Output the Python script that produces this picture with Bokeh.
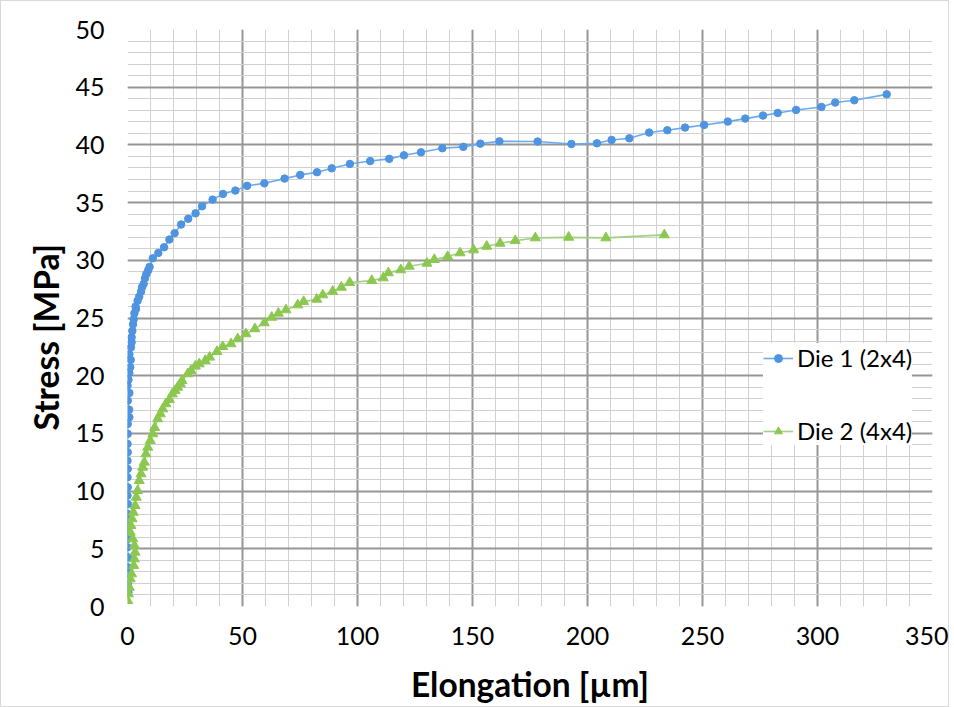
from bokeh.plotting import figure
from bokeh.models import FixedTicker, Legend, LegendItem, Range1d, Title
from bokeh.embed import file_html
from bokeh.resources import INLINE

# ---- data ----
die1_x = [0.4, 0.2, 0.3, 0.1, 0.2, 0.0, 0.1, 0.0, 0.1, 0.0, 0.1, 0.0, 0.1, 0.0, 0.1, 0.0, 0.1, 0.0, 0.1, 0.1,
          0.8, 0.7, 0.1, 0.8, 0.0, 0.4, 0.8, 1.2, 1.4, 0.8, 1.5, 1.8, 1.8, 2.1, 2.4, 2.7, 3.0, 3.7, 3.5, 4.4,
          5.1, 5.9, 6.3, 7.0, 7.6, 8.2, 9.0, 9.6, 11.0, 13.4, 15.9, 18.2, 20.5, 23.3, 26.4, 29.6, 32.4, 37.0,
          41.5, 46.9, 52.0, 59.5, 68.3, 75.1, 82.4, 88.8, 96.7, 105.5, 113.8, 120.2, 127.6, 136.9, 146.0,
          153.4, 161.7, 178.3, 193.0, 204.1, 210.5, 218.2, 226.8, 234.7, 242.4, 250.7, 261.0, 268.6, 276.3,
          282.7, 290.7, 301.7, 307.7, 316.0, 330.1]
die1_y = [1.23, 1.96, 2.82, 3.40, 4.26, 5.13, 5.86, 6.58, 7.30, 8.02, 8.89, 9.61, 10.33, 11.20, 11.92, 12.64,
          13.37, 14.09, 14.96, 15.82, 16.40, 17.06, 17.84, 18.51, 19.14, 19.65, 20.24, 20.73, 21.37, 21.85,
          22.46, 22.90, 23.33, 23.88, 24.45, 24.89, 25.41, 25.79, 26.00, 26.50, 26.85, 27.29, 27.66, 27.95,
          28.44, 28.82, 29.13, 29.43, 30.18, 30.64, 31.13, 31.80, 32.35, 33.10, 33.60, 34.07, 34.68, 35.26,
          35.75, 36.04, 36.45, 36.67, 37.08, 37.40, 37.63, 37.97, 38.35, 38.60, 38.79, 39.10, 39.36, 39.71,
          39.83, 40.11, 40.31, 40.29, 40.08, 40.14, 40.43, 40.57, 41.07, 41.27, 41.50, 41.73, 42.02, 42.28,
          42.54, 42.77, 43.03, 43.29, 43.67, 43.87, 44.38]

die2_x = [0.1, 0.4, 0.8, 1.2, 1.8, 2.7, 3.0, 3.3, 3.0, 2.3, 1.2, 1.5, 2.0, 2.5, 3.3, 3.8, 4.4, 5.1, 5.9, 6.6,
          7.3, 8.0, 8.8, 9.9, 11.0, 11.8, 13.1, 14.3, 15.3, 16.7, 18.2, 19.5, 20.7, 21.8, 23.0, 23.7, 26.2,
          27.6, 29.5, 31.2, 33.8, 35.7, 38.9, 41.4, 45.0, 47.9, 51.5, 55.4, 59.5, 62.7, 65.6, 68.9, 74.0,
          76.6, 82.3, 84.9, 89.2, 93.0, 96.6, 106.2, 111.2, 113.4, 118.8, 122.5, 130.2, 133.4, 139.2, 144.6,
          150.5, 156.2, 162.0, 168.6, 177.3, 191.8, 208.0, 233.4]
die2_y = [0.51, 1.09, 1.66, 2.39, 2.82, 3.54, 4.12, 4.70, 5.28, 5.86, 6.43, 7.01, 7.59, 8.16, 8.74, 9.46,
          10.04, 10.91, 11.49, 12.06, 12.50, 13.22, 13.80, 14.38, 14.96, 15.50, 16.26, 16.69, 17.12, 17.56,
          17.93, 18.42, 18.71, 19.00, 19.29, 19.58, 20.16, 20.44, 20.82, 21.02, 21.31, 21.60, 22.09, 22.52,
          22.76, 23.19, 23.62, 24.06, 24.58, 25.06, 25.41, 25.70, 26.13, 26.42, 26.62, 27.00, 27.31, 27.66,
          28.07, 28.24, 28.47, 28.91, 29.17, 29.48, 29.74, 30.06, 30.32, 30.64, 30.90, 31.21, 31.47, 31.70,
          31.94, 31.99, 31.94, 32.20]

series_names = ["Die 1 (2x4)", "Die 2 (4x4)"]
x_title = "Elongation [µm]"
y_title = "Stress [MPa]"
x_major = list(range(0, 351, 50))
x_minor = list(range(0, 351, 10))
y_major = list(range(0, 51, 5))
y_minor = list(range(0, 51, 1))

FONT = "Lato"
BLUE_LINE = "#6aaaf0"
BLUE_MARK = "#4f94e0"
GREEN_LINE = "#a3cf84"
GREEN_MARK = "#8cc850"

p = figure(frame_width=805, frame_height=577,
           min_border_left=126, min_border_right=16, min_border_top=28, min_border_bottom=90,
           x_range=Range1d(0, 350), y_range=Range1d(0, 50),
           output_backend="svg", toolbar_location=None,
           background_fill_color="white", border_fill_color="white",
           styles={"border": "1px solid #d9d9d9"})
p.outline_line_color = None

# grids
p.xgrid.ticker = FixedTicker(ticks=[t for t in x_major if t != 0], minor_ticks=x_minor)
p.ygrid.ticker = FixedTicker(ticks=[t for t in y_major if t != 0], minor_ticks=y_minor)
for g in (p.xgrid, p.ygrid):
    g.grid_line_color = "#969696"
    g.grid_line_width = 2
    g.minor_grid_line_color = "#d0d0d0"
    g.minor_grid_line_width = 1

# axes
p.xaxis.ticker = FixedTicker(ticks=x_major)
p.yaxis.ticker = FixedTicker(ticks=y_major)
for ax in (p.xaxis, p.yaxis):
    ax.axis_line_color = None
    ax.major_tick_line_color = None
    ax.minor_tick_line_color = None
    ax.major_tick_out = 0
    ax.minor_tick_out = 0
    ax.major_label_text_font = FONT
    ax.major_label_text_font_size = "25px"
    ax.major_label_text_color = "#000000"
    ax.axis_label_text_font = FONT
    ax.axis_label_text_font_style = "bold"
    ax.axis_label_text_font_size = "33.5px"
    ax.axis_label_text_color = "#000000"
p.xaxis.axis_label = x_title
p.yaxis.major_label_standoff = 23
p.xaxis.major_label_standoff = 20
p.xaxis.axis_label_standoff = 16

# y title as a left-side title so it can be offset like the original
yt = Title(text=y_title, align="left", offset=176, standoff=13,
           text_font=FONT, text_font_style="bold", text_font_size="33.5px", text_color="#000000")
p.add_layout(yt, "left")

# series
l1 = p.line(die1_x, die1_y, line_color=BLUE_LINE, line_width=1.6)
s1 = p.scatter(die1_x, die1_y, marker="circle", size=7.5, fill_color=BLUE_MARK, line_color=BLUE_MARK)
l2 = p.line(die2_x, die2_y, line_color=GREEN_LINE, line_width=1.6)
s2 = p.scatter(die2_x, die2_y, marker="triangle", size=10, fill_color=GREEN_MARK, line_color=GREEN_MARK)

legend = Legend(items=[LegendItem(label=series_names[0], renderers=[l1, s1]),
                       LegendItem(label=series_names[1], renderers=[l2, s2])],
                location=(636, 161))
legend.label_text_font = FONT
legend.label_text_font_size = "24px"
legend.label_text_color = "#000000"
legend.glyph_width = 30
legend.label_standoff = 4
legend.spacing = 44
legend.padding = 18
legend.margin = 0
legend.border_line_color = None
legend.background_fill_color = "white"
legend.background_fill_alpha = 1.0
p.add_layout(legend, "center")

open("out.html", "w").write(file_html(p, INLINE))
